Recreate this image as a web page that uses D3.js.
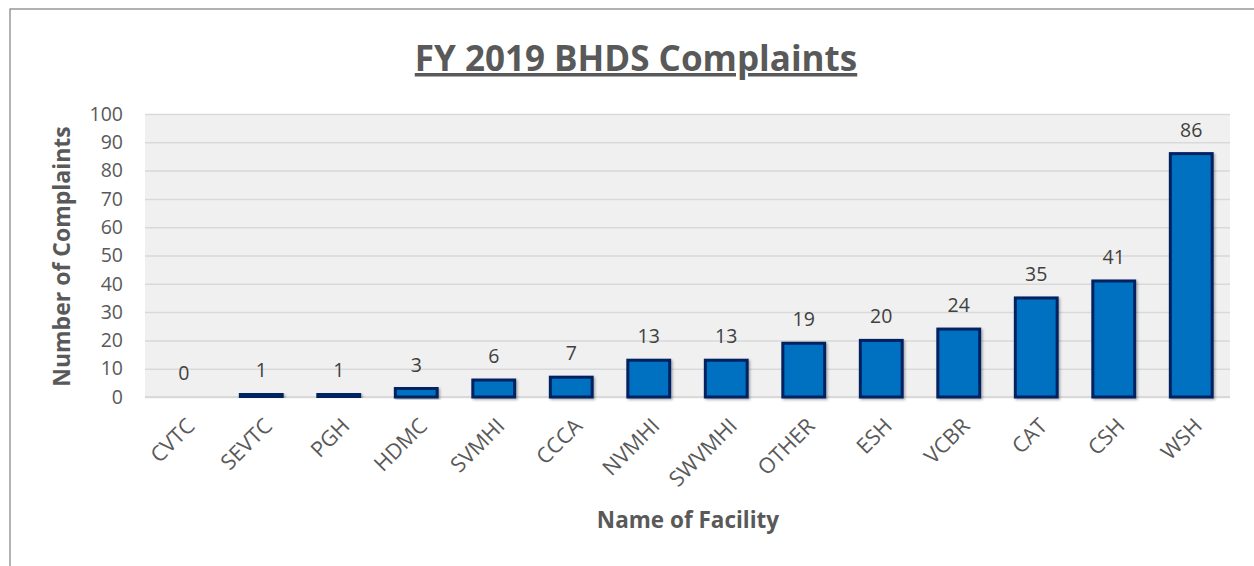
<!DOCTYPE html>
<html><head><meta charset="utf-8">
<script src="https://cdn.jsdelivr.net/npm/d3@7"></script>
<style>body{margin:0;background:#fff;} svg{display:block;}</style>
</head><body>
<svg id="chart" width="1254" height="566"></svg>
<script>
const categories = ["CVTC","SEVTC","PGH","HDMC","SVMHI","CCCA","NVMHI","SWVMHI","OTHER","ESH","VCBR","CAT","CSH","WSH"];
const complaints = [0,1,1,3,6,7,13,13,19,20,24,35,41,86];
const yTicks = [0,10,20,30,40,50,60,70,80,90,100];
const titleText = "FY 2019 BHDS Complaints";
const yTitle = "Number of Complaints";
const xTitle = "Name of Facility";

const svg = d3.select("#chart");
const font = "'Open Sans', 'Liberation Sans', sans-serif";
const m = {left:145, right:1230, top:114, bottom:397};

svg.append("rect").attr("x",10).attr("y",9).attr("width",1260).attr("height",570)
  .attr("fill","#fff").attr("stroke","#7f7f7f").attr("stroke-width",1.2);

const defs = svg.append("defs");
const f = defs.append("filter").attr("id","sh").attr("x","-20%").attr("y","-20%").attr("width","150%").attr("height","150%");
f.append("feDropShadow").attr("dx",1.5).attr("dy",1.5).attr("stdDeviation",1.2).attr("flood-color","#000").attr("flood-opacity",0.3);

const x = d3.scaleBand().domain(categories).range([m.left,m.right]).paddingInner(0.46).paddingOuter(0.23);
const y = d3.scaleLinear().domain([0,100]).range([m.bottom,m.top]);

svg.append("rect").attr("x",m.left).attr("y",m.top).attr("width",m.right-m.left).attr("height",m.bottom-m.top).attr("fill","#f0f0f0");

const yAxis = d3.axisLeft(y).tickValues(yTicks).tickSize(-(m.right-m.left)).tickPadding(22);
const gy = svg.append("g").attr("transform",`translate(${m.left},0)`).call(yAxis);
gy.select(".domain").remove();
gy.selectAll(".tick line").attr("stroke","#d9d9d9").attr("stroke-width",1.5);
gy.selectAll(".tick text").attr("fill","#595959").style("font-family",font).style("font-size","19.5px");

svg.append("line").attr("x1",m.left).attr("x2",m.right).attr("y1",y(0)).attr("y2",y(0)).attr("stroke","#d9d9d9").attr("stroke-width",2);

svg.append("g").selectAll("rect").data(categories).join("rect")
  .attr("x",d=>x(d)).attr("width",x.bandwidth())
  .attr("y",(d,i)=>y(complaints[i])).attr("height",(d,i)=>y(0)-y(complaints[i]))
  .attr("fill","#0070c0").attr("stroke","#002060").attr("stroke-width",3)
  .attr("filter","url(#sh)")
  .style("display",(d,i)=>complaints[i]===0?"none":null);

svg.append("g").selectAll("text").data(categories).join("text")
  .attr("x",d=>x(d)+x.bandwidth()/2).attr("y",(d,i)=>y(complaints[i])-17)
  .attr("text-anchor","middle").attr("fill","#404040")
  .style("font-family",font).style("font-size","19.5px")
  .text((d,i)=>complaints[i]);

const xAxis = d3.axisBottom(x).tickSize(0).tickPadding(0);
const gx = svg.append("g").attr("transform",`translate(0,${m.bottom})`).call(xAxis);
gx.select(".domain").remove();
gx.selectAll(".tick text").attr("fill","#595959").style("font-family",font).style("font-size","21.5px")
  .attr("text-anchor","end").attr("dy","0.35em").attr("y",0)
  .attr("transform","translate(7,25) rotate(-45)");

svg.append("text").attr("x",636).attr("y",71).attr("text-anchor","middle")
  .attr("fill","#595959").style("font-family",font).style("font-size","35px").style("font-weight","bold")
  .style("text-decoration","underline").text(titleText);

svg.append("text").attr("transform",`translate(70,${(m.top+m.bottom)/2+1}) rotate(-90)`).attr("text-anchor","middle")
  .attr("fill","#595959").style("font-family",font).style("font-size","23px").style("font-weight","bold").text(yTitle);

svg.append("text").attr("x",688).attr("y",528).attr("text-anchor","middle")
  .attr("fill","#595959").style("font-family",font).style("font-size","22.5px").style("font-weight","bold").text(xTitle);
</script>
</body></html>
